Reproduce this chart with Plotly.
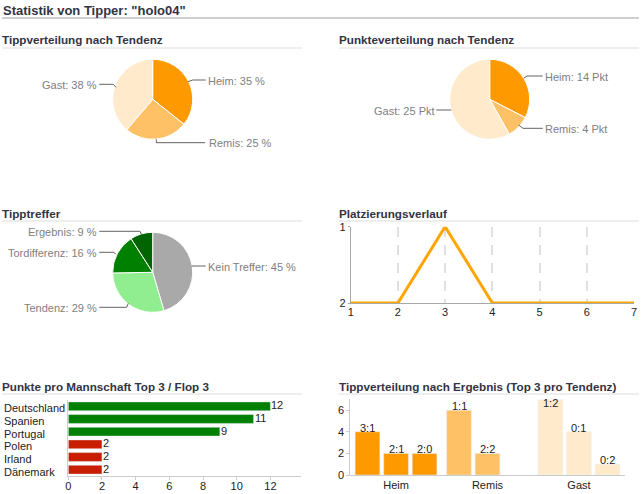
import plotly.graph_objects as go

W, H = 644, 494

# data
tendenz_labels = ["Heim", "Remis", "Gast"]
tipp_values = [35, 25, 38]
punkte_values = [14, 4, 25]
treffer_labels = ["Kein Treffer", "Tendenz", "Tordifferenz", "Ergebnis"]
treffer_values = [45, 29, 16, 9]

spieltage = [1, 2, 3, 4, 5, 6, 7]
platzierung = [2, 2, 1, 2, 2, 2, 2]

teams = ["Deutschland", "Spanien", "Portugal", "Polen", "Irland", "Dänemark"]
team_punkte = [12, 11, 9, 2, 2, 2]

rang1_values = [4, 6, 7]
rang1_text = ["3:1", "1:1", "1:2"]
rang2_values = [2, 2, 4]
rang2_text = ["2:1", "2:2", "0:1"]
rang3_values = [2, None, 1]
rang3_text = ["2:0", "", "0:2"]

ORANGE = ["#FF9900", "#FFC166", "#FFEBCC"]
TREFFER_COLORS = ["#A9A9A9", "#90EE90", "#008000", "#006400"]
TEAM_COLORS = ["#008000"] * 3 + ["#C81E00"] * 3
FONT = "Liberation Sans"
SLOT = 28.5  # px between bars of one group


def px(x):
    return x / W


def py(y):
    return 1 - y / H


def pie_domain(cx, cy, r=40):
    return dict(x=[px(cx - r), px(cx + r)], y=[py(cy + r), py(cy - r)])


# headings and pie labels live on a hidden overlay axis counted in pixels
def add_text(fig, x, y, text, size=11, color="#808080", anchor="left", bold=False):
    fig.add_annotation(
        x=x, y=y, xref="x4", yref="y4", text=f"<b>{text}</b>" if bold else text,
        showarrow=False, xanchor=anchor, yanchor="middle", borderpad=0, borderwidth=0,
        font=dict(family=FONT, size=size, color=color),
    )


def add_rule(fig, x0, x1, y, color):
    fig.add_shape(type="line", xref="x4", yref="y4", x0=x0, x1=x1, y0=y, y1=y,
                  line=dict(color=color, width=1))


def add_leader(fig, points):
    path = "M " + " L ".join(f"{x} {y}" for x, y in points)
    fig.add_shape(type="path", xref="x4", yref="y4", path=path, line=dict(color="#636363", width=1))


fig = go.Figure()

# the three pies
for values, labels, colors, domain in [
    (tipp_values, tendenz_labels, ORANGE, pie_domain(152.7, 99.3)),
    (punkte_values, tendenz_labels, ORANGE, pie_domain(489.7, 99.3)),
    (treffer_values, treffer_labels, TREFFER_COLORS, pie_domain(152.7, 272.3)),
]:
    fig.add_trace(go.Pie(values=values, labels=labels, sort=False, direction="clockwise", rotation=0,
                         textinfo="none", hoverinfo="label+value", showlegend=False, domain=domain,
                         marker=dict(colors=colors, line=dict(color="white", width=1))))

# Platzierungsverlauf
fig.add_trace(go.Scatter(x=spieltage, y=platzierung, mode="lines", xaxis="x", yaxis="y", showlegend=False,
                         line=dict(color="#FFA500", width=3), cliponaxis=False))

# Punkte pro Mannschaft
fig.add_trace(go.Bar(x=team_punkte, y=teams, orientation="h", xaxis="x2", yaxis="y2", showlegend=False,
                     width=0.7, marker=dict(color=TEAM_COLORS), cliponaxis=False))

# Tippverteilung nach Ergebnis
for values in [rang1_values, rang2_values, rang3_values]:
    fig.add_trace(go.Bar(x=tendenz_labels, y=values, xaxis="x3", yaxis="y3", showlegend=False,
                         marker=dict(color=ORANGE), cliponaxis=False))

tick_font = dict(family=FONT, size=11, color="#222222")
fig.update_layout(
    width=W, height=H, margin=dict(l=0, r=0, t=0, b=0, autoexpand=False), autosize=False,
    paper_bgcolor="white", plot_bgcolor="rgba(0,0,0,0)", font=dict(family=FONT),
    barmode="group", bargap=0.064, bargroupgap=0.135,
    xaxis=dict(domain=[px(350.7), px(634)], range=[1, 7], tickvals=spieltage, tickfont=tick_font,
               showgrid=True, gridcolor="#E0E0E0", griddash="10px,8px", gridwidth=1.5, zeroline=False,
               showline=True, linecolor="#A9A9A9", ticks="", ticklabelstandoff=-1, anchor="y"),
    yaxis=dict(domain=[py(303), py(226.7)], range=[2, 1], tickvals=[1, 2], tickfont=tick_font,
               showgrid=True, gridcolor="#E0E0E0", griddash="10px,8px", gridwidth=1.5, zeroline=False,
               showline=True, linecolor="#A9A9A9", ticks="outside", ticklen=2, tickcolor="#A9A9A9", anchor="x"),
    xaxis2=dict(domain=[px(68.3), px(300.7)], range=[0, 13.8], tickvals=[0, 2, 4, 6, 8, 10, 12], tickfont=tick_font,
                showgrid=False, zeroline=False, showline=True, linecolor="#CCCCCC",
                ticks="outside", ticklen=3, tickcolor="#CCCCCC", ticklabelstandoff=-3, anchor="y2"),
    yaxis2=dict(domain=[py(476), py(400)], range=[5.5, -0.5], showticklabels=False, showgrid=False, zeroline=False,
                showline=True, linecolor="#CCCCCC", anchor="x2"),
    xaxis3=dict(domain=[px(350.3), px(624.7)], range=[-0.5, 2.5], tickfont=tick_font, showgrid=False,
                zeroline=False, showline=True, linecolor="#CCCCCC", ticks="", anchor="y3"),
    yaxis3=dict(domain=[py(475), py(399.4)], range=[0, 7], tickvals=[0, 2, 4, 6], tickfont=tick_font,
                showgrid=False, zeroline=False, showline=True, linecolor="#CCCCCC",
                ticks="outside", ticklen=3, tickcolor="#CCCCCC", anchor="x3"),
    xaxis4=dict(domain=[0, 1], range=[0, W], visible=False, anchor="y4", fixedrange=True),
    yaxis4=dict(domain=[0, 1], range=[H, 0], visible=False, anchor="x4", fixedrange=True),
)

# team names sit left aligned, slightly below their bars; values hug the bar ends
for team, punkte in zip(teams, team_punkte):
    fig.add_annotation(x=3, xref="x4", y=team, yref="y2", yshift=-2, text=team, showarrow=False,
                       xanchor="left", yanchor="middle", borderpad=0, font=tick_font)
    fig.add_annotation(x=punkte, xref="x2", y=team, yref="y2", yshift=1, text=str(punkte), showarrow=False,
                       xanchor="left", yanchor="middle", borderpad=0, font=tick_font)

# labels above the grouped bars, the clipped 1:2 goes inside
for shift, values, labels in [(-SLOT, rang1_values, rang1_text), (0, rang2_values, rang2_text),
                              (SLOT, rang3_values, rang3_text)]:
    for cat, value, label in zip(tendenz_labels, values, labels):
        if value is None:
            continue
        fig.add_annotation(x=cat, y=value, xref="x3", yref="y3", xshift=shift, yshift=-4 if value == 7 else 4,
                           text=label, showarrow=False, yanchor="middle", font=tick_font)

# headings
add_text(fig, 3, 10, 'Statistik von Tipper: "holo04"', size=13, color="#333344", bold=True)
add_rule(fig, 2, 639, 18, "#A0A0A0")
for x, y, rule_y, title in [
    (2, 39.5, 48, "Tippverteilung nach Tendenz"),
    (339, 39.5, 48, "Punkteverteilung nach Tendenz"),
    (2, 213, 221, "Tipptreffer"),
    (339, 213, 221, "Platzierungsverlauf"),
    (2, 386, 394, "Punkte pro Mannschaft Top 3 / Flop 3"),
    (339, 386, 394, "Tippverteilung nach Ergebnis (Top 3 pro Tendenz)"),
]:
    add_text(fig, x, y, title, size=11.7, color="#333344", bold=True)
    add_rule(fig, x, x + 300, rule_y, "#DDDDDD")

# pie labels with their leader lines
add_text(fig, 208, 81, "Heim: 35 %")
add_text(fig, 208.7, 143, "Remis: 25 %")
add_text(fig, 97, 85, "Gast: 38 %", anchor="right")
add_leader(fig, [(188, 81.7), (192.7, 80), (205.7, 80)])
add_leader(fig, [(156.3, 139.3), (156.3, 142.7), (205, 142.7)])
add_leader(fig, [(116, 87.3), (113.3, 84.3), (99.3, 84.3)])

add_text(fig, 545.3, 77, "Heim: 14 Pkt")
add_text(fig, 545.3, 129, "Remis: 4 Pkt")
add_text(fig, 434.7, 111, "Gast: 25 Pkt", anchor="right")
add_leader(fig, [(523.7, 78.3), (527, 76), (542.7, 76)])
add_leader(fig, [(518.7, 125), (523, 128.3), (542.7, 128.3)])
add_leader(fig, [(451.3, 110), (436.3, 110)])

add_text(fig, 208, 267, "Kein Treffer: 45 %")
add_text(fig, 97, 308, "Tendenz: 29 %", anchor="right")
add_text(fig, 97, 253, "Tordifferenz: 16 %", anchor="right")
add_text(fig, 97, 232, "Ergebnis: 9 %", anchor="right")
add_leader(fig, [(191.7, 266), (205.7, 266)])
add_leader(fig, [(128.3, 303.3), (126.7, 307.3), (99.3, 307.3)])
add_leader(fig, [(115.7, 254.3), (114, 252.3), (99.3, 252.3)])
add_leader(fig, [(141.3, 234.3), (140, 231.3), (99.3, 231.3)])

fig.write_html("out.html", config={"displayModeBar": False},
               post_script="document.body.style.margin='0';")
